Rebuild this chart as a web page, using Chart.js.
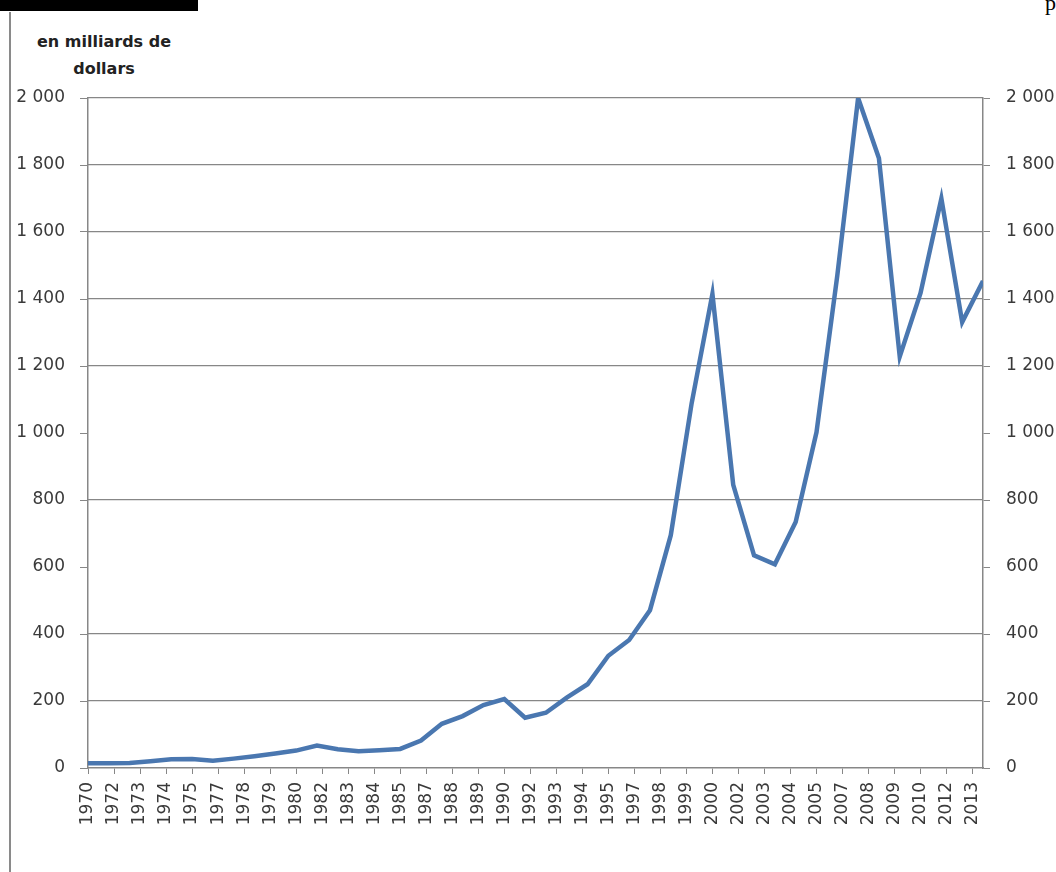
<!DOCTYPE html>
<html>
<head>
<meta charset="utf-8">
<script src="https://cdn.jsdelivr.net/npm/chart.js@4.4.1/dist/chart.umd.min.js"></script>
<style>
  html, body { margin: 0; padding: 0; background: #fff; }
  body { width: 1056px; height: 872px; position: relative; overflow: hidden; }
  #topbar { position: absolute; left: 0; top: 0; width: 198px; height: 11px; background: #000; }
  #pmark { position: absolute; left: 1045px; top: -10px; font: 22px "Liberation Serif", serif; color: #000; }
  #leftrule { position: absolute; left: 9px; top: 12px; width: 2px; height: 860px; background: #8a8a8a; }
  #unit { position: absolute; left: 24px; top: 28px; width: 160px; text-align: center;
          font: bold 16px "DejaVu Sans", sans-serif; line-height: 27px; color: #222; }
  #chart { position: absolute; left: 0; top: 0; }
</style>
</head>
<body>
<div id="topbar"></div>
<div id="pmark">p</div>
<div id="leftrule"></div>
<div id="unit">en milliards de<br>dollars</div>
<canvas id="chart" width="1056" height="872"></canvas>
<script>
// years of the series, one value per year
const years = [1970, 1971, 1972, 1973, 1974, 1975, 1976, 1977, 1978, 1979,
               1980, 1981, 1982, 1983, 1984, 1985, 1986, 1987, 1988, 1989,
               1990, 1991, 1992, 1993, 1994, 1995, 1996, 1997, 1998, 1999,
               2000, 2001, 2002, 2003, 2004, 2005, 2006, 2007, 2008, 2009,
               2010, 2011, 2012, 2013];
const values = [14, 14, 15, 20, 26, 27, 22, 28, 35, 43,
                52, 67, 56, 50, 53, 57, 82, 132, 155, 188,
                206, 150, 165, 210, 250, 335, 382, 471, 695, 1088,
                1415, 845, 635, 608, 734, 1002, 1470, 2000, 1820, 1228,
                1418, 1700, 1331, 1454];

// labels as printed under the axis (they do not fall on every year)
const xTickLabels = ['1970', '1972', '1973', '1974', '1975', '1977', '1978', '1979', '1980', '1982',
                     '1983', '1984', '1985', '1987', '1988', '1989', '1990', '1992', '1993', '1994',
                     '1995', '1997', '1998', '1999', '2000', '2002', '2003', '2004', '2005', '2007',
                     '2008', '2009', '2010', '2012', '2013'];
const yTicks = [0, 200, 400, 600, 800, 1000, 1200, 1400, 1600, 1800, 2000];
// the scan shows no gridline at 600 and 1 000
const gridValues = [200, 400, 800, 1200, 1400, 1600, 1800, 2000];

const axisGray = '#878787';
const textGray = '#3a3a3a';

function fmt(v) {
    return String(v).replace(/\B(?=(\d{3})+(?!\d))/g, ' ');
}

const points = years.map((y, i) => ({ x: y, y: values[i] }));

const ctx = document.getElementById('chart').getContext('2d');
const chart = new Chart(ctx, {
    type: 'line',
    data: {
        datasets: [{
            data: points,
            borderColor: '#4a77b0',
            borderWidth: 4.5,
            pointRadius: 0,
            tension: 0,
            borderJoinStyle: 'miter',
            fill: false
        }]
    },
    options: {
        responsive: false,
        animation: false,
        layout: { padding: { top: 98, left: 0, right: 0, bottom: 0 } },
        plugins: { legend: { display: false }, tooltip: { enabled: false } },
        scales: {
            x: {
                type: 'linear',
                min: years[0],
                max: years[years.length - 1],
                afterBuildTicks: (scale) => {
                    scale.ticks = xTickLabels.map((_, i) => ({ value: years[0] + i * 1.25 }));
                },
                afterFit: (scale) => { scale.height = 104; },
                ticks: {
                    autoSkip: false,
                    maxRotation: 90,
                    minRotation: 90,
                    padding: 8,
                    color: textGray,
                    font: { family: 'DejaVu Sans', size: 17 },
                    callback: (v, i) => xTickLabels[i]
                },
                grid: { drawOnChartArea: false, tickLength: 6, color: axisGray },
                border: { color: axisGray, width: 1.5 }
            },
            y: {
                position: 'left',
                min: 0,
                max: 2000,
                afterBuildTicks: (scale) => { scale.ticks = yTicks.map(v => ({ value: v })); },
                afterFit: (scale) => { scale.width = 88; },
                ticks: {
                    autoSkip: false,
                    padding: 15,
                    color: textGray,
                    font: { family: 'DejaVu Sans', size: 17 },
                    callback: (v) => fmt(v)
                },
                grid: { drawOnChartArea: false, tickLength: 8, color: axisGray },
                border: { color: axisGray, width: 1.5 }
            },
            // carries only the horizontal gridlines
            yg: {
                position: 'left',
                min: 0,
                max: 2000,
                afterBuildTicks: (scale) => { scale.ticks = gridValues.map(v => ({ value: v })); },
                afterFit: (scale) => { scale.width = 0; },
                ticks: { display: false },
                grid: { drawTicks: false, color: axisGray, lineWidth: 1.3 },
                border: { display: false }
            },
            y2: {
                position: 'right',
                min: 0,
                max: 2000,
                afterBuildTicks: (scale) => { scale.ticks = yTicks.map(v => ({ value: v })); },
                afterFit: (scale) => { scale.width = 73; },
                ticks: {
                    autoSkip: false,
                    padding: 16,
                    color: textGray,
                    font: { family: 'DejaVu Sans', size: 17 },
                    callback: (v) => fmt(v)
                },
                grid: { drawOnChartArea: false, tickLength: 7, color: axisGray },
                border: { color: axisGray, width: 1.5 }
            }
        }
    }
});
</script>
</body>
</html>
